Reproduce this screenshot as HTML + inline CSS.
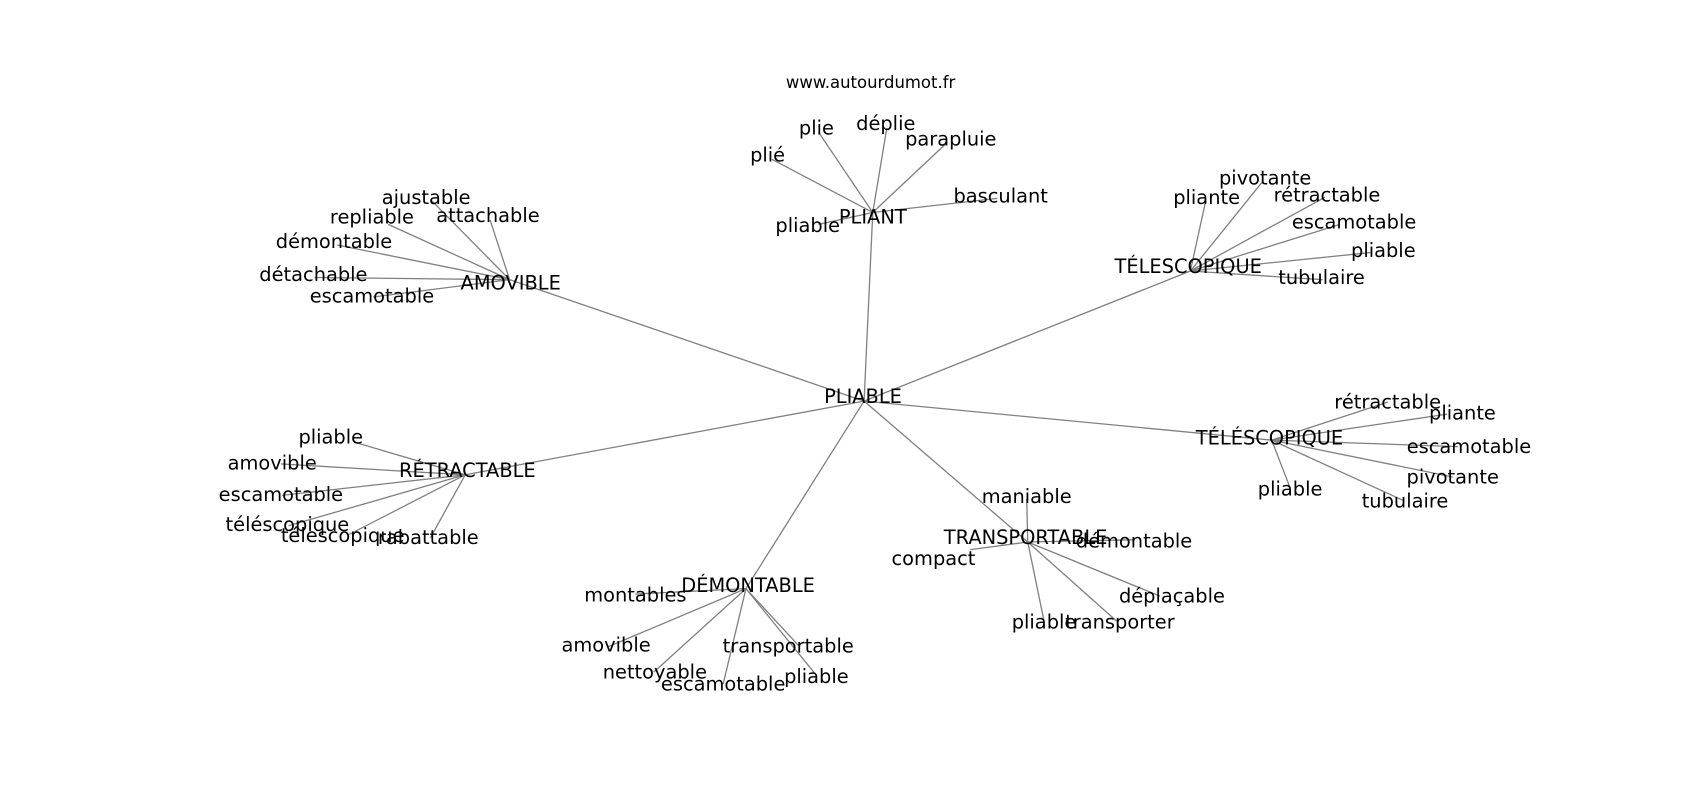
<!DOCTYPE html>
<html><head><meta charset="utf-8"><style>
html,body{margin:0;padding:0;background:#fff;}
svg{display:block}
text{font-family:"DejaVu Sans","Liberation Sans",sans-serif;font-size:17.9px;fill:#000;text-anchor:middle;dominant-baseline:central}
line{stroke:#808080;stroke-width:1.2}
</style></head><body>
<svg width="1700" height="800" viewBox="0 0 1568 738" xmlns="http://www.w3.org/2000/svg">
<g>
<line x1="797" y1="370" x2="805" y2="196"/>
<line x1="797" y1="370" x2="1098" y2="250"/>
<line x1="797" y1="370" x2="470" y2="258"/>
<line x1="797" y1="370" x2="429" y2="438"/>
<line x1="797" y1="370" x2="1173" y2="406"/>
<line x1="797" y1="370" x2="948" y2="500"/>
<line x1="797" y1="370" x2="688" y2="543"/>
<line x1="805" y1="196" x2="712" y2="147"/>
<line x1="805" y1="196" x2="755" y2="122"/>
<line x1="805" y1="196" x2="818" y2="118"/>
<line x1="805" y1="196" x2="873" y2="132"/>
<line x1="805" y1="196" x2="920" y2="183"/>
<line x1="805" y1="196" x2="755" y2="207"/>
<line x1="1098" y1="250" x2="1112" y2="186"/>
<line x1="1098" y1="250" x2="1165" y2="167"/>
<line x1="1098" y1="250" x2="1222" y2="182"/>
<line x1="1098" y1="250" x2="1236" y2="207"/>
<line x1="1098" y1="250" x2="1264" y2="233"/>
<line x1="1098" y1="250" x2="1220" y2="258"/>
<line x1="470" y1="258" x2="397" y2="184"/>
<line x1="470" y1="258" x2="452" y2="203"/>
<line x1="470" y1="258" x2="358" y2="207"/>
<line x1="470" y1="258" x2="311" y2="226"/>
<line x1="470" y1="258" x2="290" y2="256"/>
<line x1="470" y1="258" x2="344" y2="274"/>
<line x1="429" y1="438" x2="327" y2="408"/>
<line x1="429" y1="438" x2="259" y2="428"/>
<line x1="429" y1="438" x2="260" y2="457"/>
<line x1="429" y1="438" x2="266" y2="485"/>
<line x1="429" y1="438" x2="322" y2="493"/>
<line x1="429" y1="438" x2="397" y2="496"/>
<line x1="1173" y1="406" x2="1280" y2="371"/>
<line x1="1173" y1="406" x2="1335" y2="382"/>
<line x1="1173" y1="406" x2="1345" y2="412"/>
<line x1="1173" y1="406" x2="1340" y2="440"/>
<line x1="1173" y1="406" x2="1295" y2="462"/>
<line x1="1173" y1="406" x2="1190" y2="450"/>
<line x1="948" y1="500" x2="947" y2="460"/>
<line x1="948" y1="500" x2="895" y2="507"/>
<line x1="948" y1="500" x2="1045" y2="498"/>
<line x1="948" y1="500" x2="1070" y2="550"/>
<line x1="948" y1="500" x2="1030" y2="573"/>
<line x1="948" y1="500" x2="963" y2="573"/>
<line x1="688" y1="543" x2="586" y2="548"/>
<line x1="688" y1="543" x2="560" y2="597"/>
<line x1="688" y1="543" x2="603" y2="620"/>
<line x1="688" y1="543" x2="667" y2="631"/>
<line x1="688" y1="543" x2="737" y2="596"/>
<line x1="688" y1="543" x2="753" y2="623"/>
</g>
<text x="803" y="76" style="font-size:15.2px">www.autourdumot.fr</text>
<text x="796" y="366">PLIABLE</text>
<text x="805" y="200">PLIANT</text>
<text x="708" y="143">plié</text>
<text x="753" y="118">plie</text>
<text x="817" y="114">déplie</text>
<text x="877" y="128">parapluie</text>
<text x="923" y="181">basculant</text>
<text x="745" y="208">pliable</text>
<text x="1096" y="246">TÉLESCOPIQUE</text>
<text x="1113" y="182">pliante</text>
<text x="1167" y="164">pivotante</text>
<text x="1224" y="180">rétractable</text>
<text x="1249" y="205">escamotable</text>
<text x="1276" y="231">pliable</text>
<text x="1219" y="256">tubulaire</text>
<text x="471" y="261">AMOVIBLE</text>
<text x="393" y="182">ajustable</text>
<text x="450" y="199">attachable</text>
<text x="343" y="200">repliable</text>
<text x="308" y="223">démontable</text>
<text x="289" y="253">détachable</text>
<text x="343" y="273">escamotable</text>
<text x="431" y="434">RÉTRACTABLE</text>
<text x="305" y="403">pliable</text>
<text x="251" y="427">amovible</text>
<text x="259" y="456">escamotable</text>
<text x="265" y="484">téléscopique</text>
<text x="316" y="494">télescopique</text>
<text x="395" y="496">rabattable</text>
<text x="1171" y="404">TÉLÉSCOPIQUE</text>
<text x="1280" y="371">rétractable</text>
<text x="1349" y="381">pliante</text>
<text x="1355" y="412">escamotable</text>
<text x="1340" y="440">pivotante</text>
<text x="1296" y="462">tubulaire</text>
<text x="1190" y="451">pliable</text>
<text x="946" y="496">TRANSPORTABLE</text>
<text x="947" y="458">maniable</text>
<text x="861" y="515">compact</text>
<text x="1046" y="499">démontable</text>
<text x="1081" y="550">déplaçable</text>
<text x="963" y="574">pliable</text>
<text x="1033" y="574">transporter</text>
<text x="690" y="540">DÉMONTABLE</text>
<text x="586" y="549">montables</text>
<text x="559" y="595">amovible</text>
<text x="604" y="620">nettoyable</text>
<text x="667" y="631">escamotable</text>
<text x="727" y="596">transportable</text>
<text x="753" y="624">pliable</text>
</svg>
</body></html>
